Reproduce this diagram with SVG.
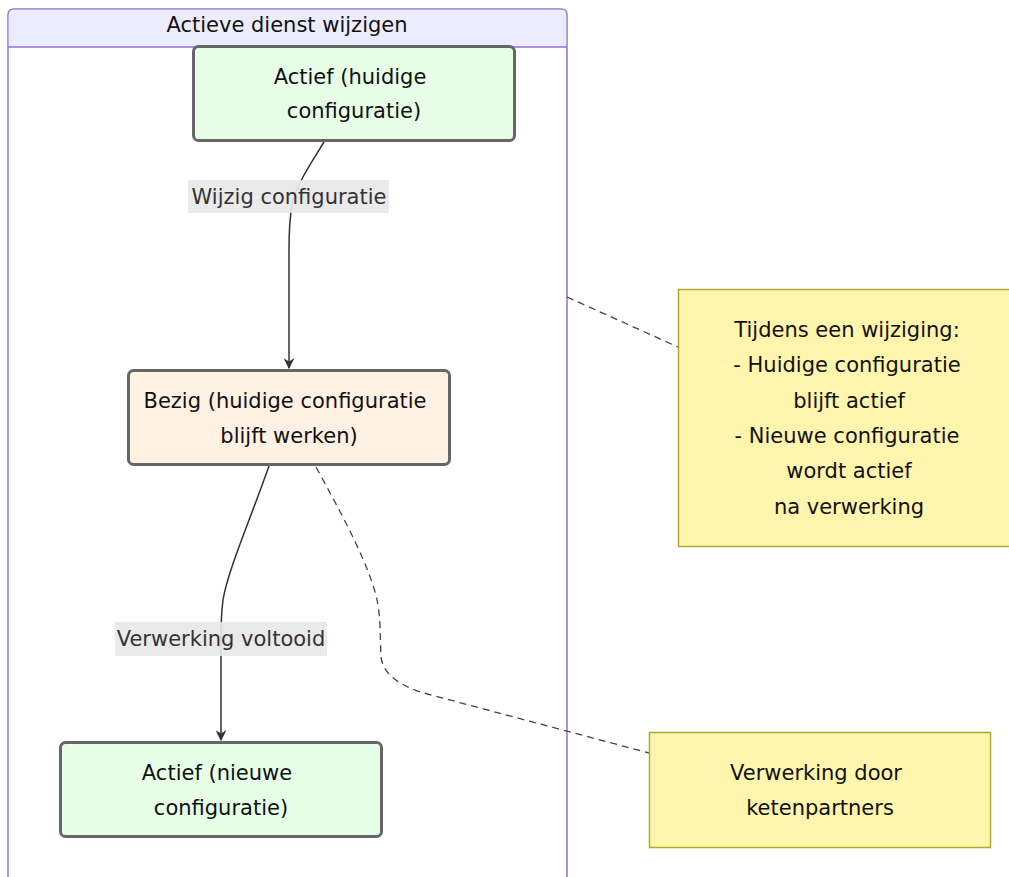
<svg xmlns="http://www.w3.org/2000/svg" width="1009" height="877" viewBox="0 0 1009 877">
<defs>
<style>
text{font-family:"DejaVu Sans","Liberation Sans",sans-serif;text-anchor:middle;dominant-baseline:central}
.node rect{stroke:#666;stroke-width:3}
.green{fill:#E6FFE6}
.orange{fill:#FFF2E4}
.note rect{fill:#FFF5AD;stroke:#AAAA33;stroke-width:1.5}
.nt{font-size:21px;fill:#111}
.el{font-size:21px;fill:#333}
.lbg{fill:#E8E8E8;opacity:0.9}
.edge{fill:none;stroke:#333;stroke-width:1.5}
.dash{fill:none;stroke:#444;stroke-width:1.3;stroke-dasharray:7 5}
</style>
<marker id="arrow" viewBox="0 0 10 10" refX="9" refY="5" markerWidth="11" markerHeight="11" orient="auto" markerUnits="userSpaceOnUse">
<path d="M0,0 L10,5 L0,10 L3,5 z" fill="#333"/>
</marker>
</defs>
<rect width="1009" height="877" fill="#ffffff"/>
<g id="cluster">
<path d="M8,877 L8,15 Q8,9 14,9 L561,9 Q567,9 567,15 L567,877" fill="#ffffff" stroke="#9370DB" stroke-width="1.5"/>
<path d="M8.75,47 L8.75,15 Q8.75,9.75 14,9.75 L561,9.75 Q566.25,9.75 566.25,15 L566.25,47 Z" fill="#ECECFF"/>
<line x1="8" y1="47" x2="567" y2="47" stroke="#9370DB" stroke-width="1.5"/>
<text x="287" y="25" class="nt">Actieve dienst wijzigen</text>
</g>
<g id="connectors">
<path class="edge" d="M324,142 C310,165 296,185 292,205 C289,222 289,235 289,250 L289,368" marker-end="url(#arrow)"/>
<path class="edge" d="M269,466 C250,520 228,570 223,600 C221,615 221,625 221,640 L221,740" marker-end="url(#arrow)"/>
<path class="dash" d="M567,297 L678,347"/>
<path class="dash" d="M316,467 C345,520 372,570 378,605 C381,625 380,640 381,657 C383,672 395,683 420,692 L649,753"/>
<rect class="lbg" x="188" y="180" width="201" height="33"/>
<text x="289" y="197" class="el">Wijzig configuratie</text>
<rect class="lbg" x="115" y="622" width="212" height="34"/>
<text x="221" y="639" class="el">Verwerking voltooid</text>
</g>
<g id="node-actief-huidig" class="node">
<rect class="green" x="193.5" y="46.5" width="321" height="94" rx="5"/>
<text x="350" y="77" class="nt">Actief (huidige</text>
<text x="354" y="111" class="nt">configuratie)</text>
</g>
<g id="node-bezig" class="node">
<rect class="orange" x="128.5" y="370.5" width="321" height="94" rx="5"/>
<text x="285" y="401" class="nt">Bezig (huidige configuratie</text>
<text x="289" y="436" class="nt">blijft werken)</text>
</g>
<g id="node-actief-nieuw" class="node">
<rect class="green" x="60.5" y="742.5" width="321" height="94" rx="5"/>
<text x="217" y="773" class="nt">Actief (nieuwe</text>
<text x="221" y="808" class="nt">configuratie)</text>
</g>
<g id="note-wijziging" class="note">
<rect x="678.5" y="289.5" width="340" height="257"/>
<text x="847" y="330" class="nt">Tijdens een wijziging:</text>
<text x="847" y="365" class="nt">- Huidige configuratie</text>
<text x="849" y="401" class="nt">blijft actief</text>
<text x="847" y="436" class="nt">- Nieuwe configuratie</text>
<text x="849" y="471" class="nt">wordt actief</text>
<text x="849" y="507" class="nt">na verwerking</text>
</g>
<g id="note-ketenpartners" class="note">
<rect x="649.5" y="732.5" width="341" height="115"/>
<text x="816" y="773" class="nt">Verwerking door</text>
<text x="820" y="808" class="nt">ketenpartners</text>
</g>
</svg>
